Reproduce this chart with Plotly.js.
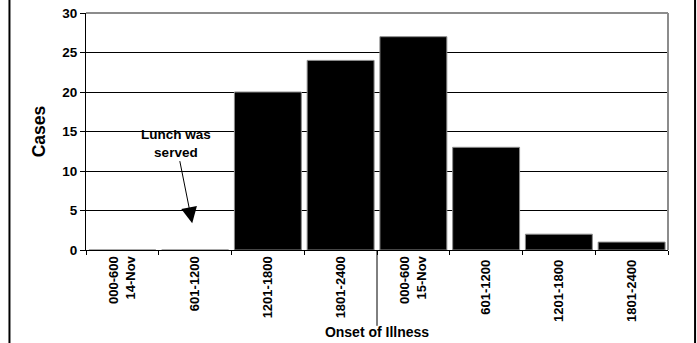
<!DOCTYPE html>
<html>
<head>
<meta charset="utf-8">
<script src="https://cdn.plot.ly/plotly-3.0.1.min.js"></script>
<style>
  html, body { margin: 0; padding: 0; background: #fff; }
  #chart { width: 697px; height: 343px; }
</style>
</head>
<body>
<div id="chart"></div>
<script>
// Six-hour onset windows across two days
const periods = [
  "000-600<br>14-Nov", "601-1200", "1201-1800", "1801-2400",
  "000-600<br>15-Nov", "601-1200 ", "1201-1800 ", "1801-2400 "
];
const cases = [0, 0, 20, 24, 27, 13, 2, 1];
const yTicks = [0, 5, 10, 15, 20, 25, 30];

const FONT = "Liberation Sans, Arial, sans-serif";

const trace = {
  type: "bar",
  x: periods,
  y: cases,
  marker: { color: "#000000", line: { color: "#8c8c8c", width: 1 } },
  hoverinfo: "skip"
};

const layout = {
  width: 697,
  height: 343,
  margin: { l: 86, r: 29, t: 13, b: 93 },
  paper_bgcolor: "#ffffff",
  plot_bgcolor: "#ffffff",
  showlegend: false,
  bargap: 0.08,
  font: { family: FONT, color: "#000000" },
  xaxis: {
    type: "category",
    tickangle: -90,
    tickson: "boundaries",
    ticks: "outside",
    ticklen: 4,
    tickcolor: "#000000",
    tickwidth: 1,
    showline: true,
    linecolor: "#000000",
    linewidth: 1,
    showgrid: false,
    tickvals: periods,
    ticktext: periods.map(p => "<b>" + p + "</b>"),
    tickfont: { family: FONT, size: 13, color: "#000000" },
    title: {
      text: "<b>Onset of Illness</b>",
      font: { family: FONT, size: 14, color: "#000000" },
      standoff: 6
    },
    automargin: false
  },
  yaxis: {
    range: [0, 30],
    tickvals: yTicks,
    ticktext: yTicks.map(v => "<b>" + v + "</b>"),
    ticks: "outside",
    ticklen: 5,
    tickcolor: "#000000",
    showline: true,
    linecolor: "#000000",
    linewidth: 1,
    showgrid: true,
    gridcolor: "#000000",
    gridwidth: 1,
    zeroline: false,
    tickfont: { family: FONT, size: 13.5, color: "#000000" },
    title: {
      text: "<b>Cases</b>",
      font: { family: FONT, size: 17.5, color: "#000000" },
      standoff: 12
    },
    automargin: false
  },
  annotations: [{
    x: 0.96,
    y: 3.4,
    xref: "x",
    yref: "y",
    text: "<b>Lunch was<br>served</b>",
    font: { family: FONT, size: 13.5, color: "#000000" },
    showarrow: true,
    arrowhead: 2,
    arrowsize: 3.2,
    arrowwidth: 1,
    arrowcolor: "#000000",
    ax: -16,
    ay: -80
  }],
  shapes: [
    // day divider between 14-Nov and 15-Nov
    { type: "line", xref: "x", yref: "paper", x0: 3.5, x1: 3.5, y0: 0, y1: -0.32,
      line: { color: "#000000", width: 1 } },
    // grey plot frame, top and right
    { type: "line", xref: "paper", yref: "paper", x0: 0, x1: 1, y0: 1, y1: 1,
      line: { color: "#8c8c8c", width: 2 } },
    { type: "line", xref: "paper", yref: "paper", x0: 1, x1: 1, y0: 0, y1: 1,
      line: { color: "#8c8c8c", width: 2 } },
    // outer frame sides
    { type: "line", xref: "paper", yref: "paper", x0: -0.1315, x1: -0.1315, y0: -1, y1: 2,
      line: { color: "#000000", width: 2 } },
    { type: "line", xref: "paper", yref: "paper", x0: 1.0465, x1: 1.0465, y0: -1, y1: 2,
      line: { color: "#000000", width: 2 } }
  ]
};

Plotly.newPlot("chart", [trace], layout, { staticPlot: true, displayModeBar: false });
</script>
</body>
</html>
